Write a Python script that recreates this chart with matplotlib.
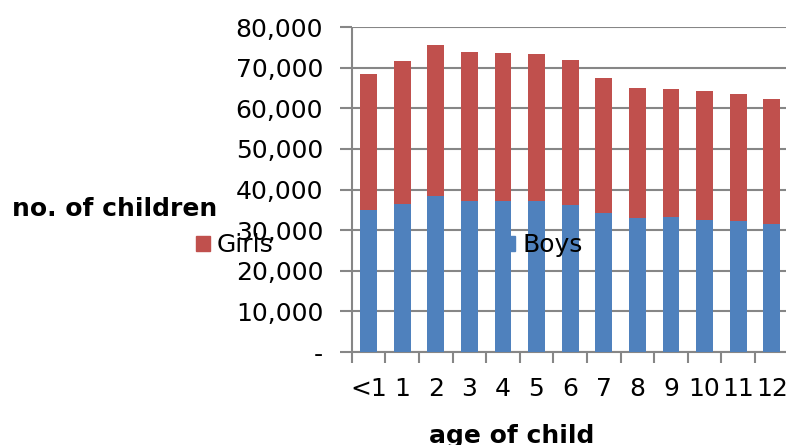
import matplotlib.pyplot as plt
from matplotlib.patches import Patch
from matplotlib.ticker import FuncFormatter, FixedLocator
import numpy as np

# children by age, split by sex
ages = ["<1", "1", "2", "3", "4", "5", "6", "7", "8", "9", "10", "11", "12"]
boys = [35000, 36500, 38500, 37200, 37200, 37200, 36200, 34200, 33100, 33200, 32600, 32200, 31600]
totals = [68500, 71600, 75600, 73800, 73600, 73400, 71900, 67400, 65000, 64700, 64200, 63500, 62300]
girls = [t - b for t, b in zip(totals, boys)]

blue = "#4F81BD"
red = "#C0504D"
grey = "#868686"

W, H = 786, 445
fig = plt.figure(figsize=(W / 100, H / 100), dpi=100)
ax = fig.add_axes([351.7 / W, (H - 352) / H, (788.5 - 351.7) / W, (352 - 27) / H])

x = np.arange(len(ages))
ax.bar(x, boys, width=0.5, color=blue, zorder=3)
ax.bar(x, girls, width=0.5, bottom=boys, color=red, zorder=3)

ax.set_xlim(-0.5, len(ages) - 0.5)
ax.set_ylim(0, 80000)
ax.set_yticks(np.arange(0, 80001, 10000))
ax.yaxis.set_major_formatter(FuncFormatter(lambda v, p: "-" if v == 0 else f"{v:,.0f}"))
ax.grid(axis="y", color=grey, linewidth=1.5, zorder=0)

# category labels in the middle, tick marks on the boundaries
ax.set_xticks(x)
ax.set_xticklabels(ages)
ax.xaxis.set_minor_locator(FixedLocator(np.arange(-0.5, len(ages), 1.0)))
ax.tick_params(axis="x", which="major", length=0, pad=18, labelsize=18)
ax.tick_params(axis="x", which="minor", length=8, width=1.5, color=grey, direction="out")
ax.tick_params(axis="y", length=8.5, width=1.5, color=grey, pad=12, labelsize=18)

for side in ["top", "right"]:
    ax.spines[side].set_visible(False)
for side in ["left", "bottom"]:
    ax.spines[side].set_color(grey)
    ax.spines[side].set_linewidth(1.5)
    ax.spines[side].set_capstyle("butt")

fig.text(12 / W, (H - 209) / H, "no. of children", fontsize=18, fontweight="bold",
         ha="left", va="center")
fig.text(512 / W, 2 / H, "age of child", fontsize=18, fontweight="bold",
         ha="center", va="baseline")

handles = [Patch(color=red, label="Girls"), Patch(color=blue, label="Boys")]
fig.legend(handles=handles, ncol=2, loc="center left", bbox_to_anchor=(196 / W, (H - 245) / H),
           frameon=False, fontsize=18, handlelength=0.56, handleheight=0.56,
           handletextpad=0.28, columnspacing=9.1, borderpad=0, borderaxespad=0)

fig.savefig("out.png", dpi=100)
